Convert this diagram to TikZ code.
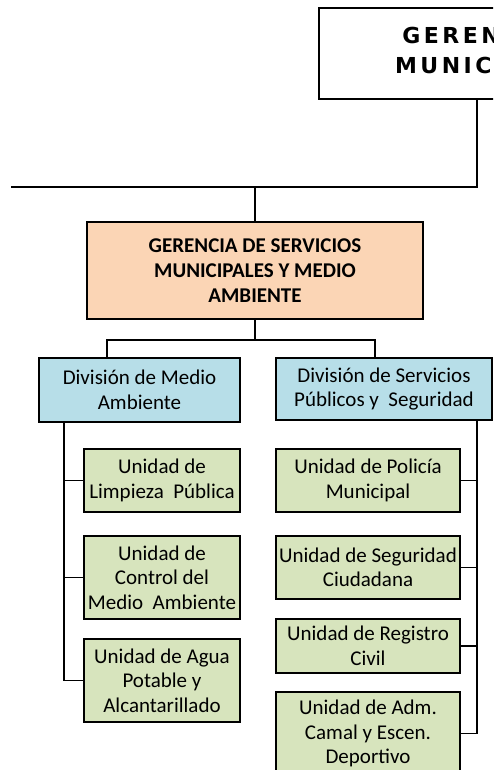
\documentclass[tikz,border=0pt]{standalone}
\usepackage{fontspec}
\setmainfont{Carlito}
\newfontfamily\topfont[LetterSpace=16]{DejaVu Sans}
\usetikzlibrary{calc}
\definecolor{peach}{HTML}{FBD5B5}
\definecolor{lblue}{HTML}{B7DEE8}
\definecolor{lgreen}{HTML}{D7E4BD}
\tikzset{
  box/.style={draw=black, line width=1.3pt, inner sep=0pt, outer sep=0pt, align=center,
    anchor=north west, font=\fontsize{21}{24.5}\selectfont},
  topbox/.style={box, fill=white},
  toptext/.style={inner sep=0pt, align=center, font=\topfont\bfseries\fontsize{22}{30}\selectfont},
  gerbox/.style={box, fill=peach, font=\bfseries\fontsize{21}{25}\selectfont},
  divbox/.style={box, fill=lblue},
  unitbox/.style={box, fill=lgreen},
  wire/.style={draw=black, line width=1.3pt}
}
\begin{document}
\begin{tikzpicture}[x=1pt, y=-1pt]
\useasboundingbox (0,0) rectangle (493,770);
\clip (0,0) rectangle (493,770);
% boxes
\node[topbox, minimum width=316pt, minimum height=91pt] (top) at (319,8) {};
\node[toptext] (toplabel) at (477,50) {GERENCIA\\MUNICIPAL};
\node[gerbox, minimum width=336pt, minimum height=97pt] (ger) at (87,222) {GERENCIA DE SERVICIOS\\MUNICIPALES Y MEDIO\\AMBIENTE};
\node[divbox, minimum width=201pt, minimum height=64pt] (divL) at (39,358) {División de Medio\\Ambiente};
\node[divbox, minimum width=216pt, minimum height=62pt] (divR) at (276,358) {División de Servicios\\Públicos y~ Seguridad};
\node[unitbox, minimum width=156pt, minimum height=63pt] (L1) at (84,449) {Unidad de\\Limpieza~ Pública};
\node[unitbox, minimum width=156pt, minimum height=83pt] (L2) at (84,536) {Unidad de\\Control del\\Medio~ Ambiente};
\node[unitbox, minimum width=156pt, minimum height=83pt] (L3) at (84,639) {Unidad de Agua\\Potable y\\Alcantarillado};
\node[unitbox, minimum width=184pt, minimum height=63pt] (R1) at (276,449) {Unidad de Policía\\Municipal};
\node[unitbox, minimum width=184pt, minimum height=63pt] (R2) at (276,536) {Unidad de Seguridad\\Ciudadana};
\node[unitbox, minimum width=184pt, minimum height=54pt] (R3) at (276,619) {Unidad de Registro\\Civil};
\node[unitbox, minimum width=184pt, minimum height=83pt] (R4) at (276,692) {Unidad de Adm.\\Camal y Escen.\\Deportivo};
% connectors
\coordinate (lend) at (11,187);
\draw[wire] (top.south) |- (lend);
\draw[wire] (ger.north) -- (ger.north |- lend);
\coordinate (bus) at (255,340);
\draw[wire] (ger.south) -- (bus);
\draw[wire] ($(divL.north west)+(68,0)$) |- (bus) -| ($(divR.north west)+(99,0)$);
\coordinate (ls) at ($(divL.south west)+(25,0)$);
\draw[wire] (ls) |- (L3.west);
\draw[wire] (L1.west) -- (L1.west -| ls);
\draw[wire] (L2.west) -- (L2.west -| ls);
\coordinate (rs) at ($(divR.south west)+(201,0)$);
\draw[wire] (rs) |- (R4.east);
\draw[wire] (R1.east) -- (R1.east -| rs);
\draw[wire] (R2.east) -- (R2.east -| rs);
\draw[wire] (R3.east) -- (R3.east -| rs);
\end{tikzpicture}
\end{document}
